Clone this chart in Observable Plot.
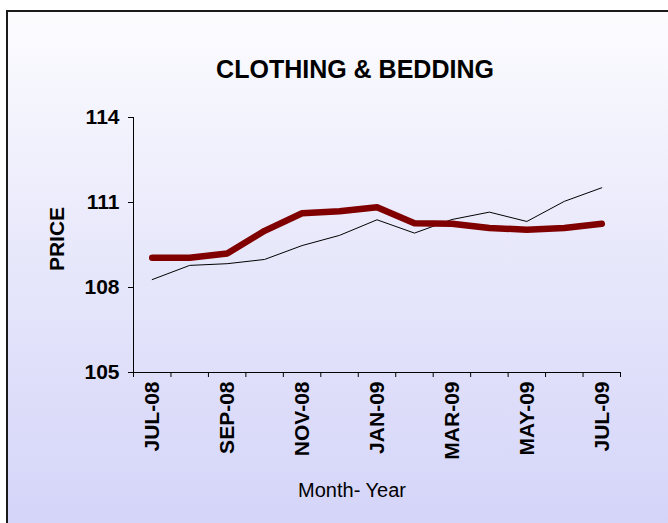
<!DOCTYPE html>
<html>
<head>
<meta charset="utf-8">
<script src="https://cdn.jsdelivr.net/npm/d3@7"></script>
<script src="https://cdn.jsdelivr.net/npm/@observablehq/plot@0.6"></script>
<style>
  html, body { margin: 0; padding: 0; width: 668px; height: 523px; overflow: hidden; background: #ffffff; font-family: "Liberation Sans", Arial, sans-serif; }
  #frame { position: absolute; left: 6px; top: 10px; width: 680px; height: 530px; border: 2px solid #1a1a1a; background: linear-gradient(to bottom, #fcfcff 0%, #e8e8fb 45%, #d3d3f9 100%); }
  #title { position: absolute; left: 0; width: 710px; top: 55px; text-align: center; font-weight: bold; font-size: 25px; color: #000; }
  #chart { position: absolute; left: 0; top: 0; }
  #xlabel { position: absolute; left: 252px; width: 200px; top: 479px; text-align: center; font-size: 20px; color: #000; }
</style>
</head>
<body>
<div id="frame"></div>
<div id="title">CLOTHING &amp; BEDDING</div>
<div id="chart"></div>
<div id="xlabel">Month- Year</div>
<script>
const months = ["JUL-08","AUG-08","SEP-08","OCT-08","NOV-08","DEC-08","JAN-09","FEB-09","MAR-09","APR-09","MAY-09","JUN-09","JUL-09"];
const seriesRed = [109.05, 109.05, 109.2, 110.0, 110.62, 110.69, 110.83, 110.27, 110.25, 110.1, 110.04, 110.1, 110.25];
const seriesBlack = [108.28, 108.78, 108.84, 108.99, 109.48, 109.84, 110.39, 109.92, 110.4, 110.66, 110.33, 111.04, 111.52];
const yTicks = [105, 108, 111, 114];

const redData = months.map((m, i) => ({i, v: seriesRed[i]}));
const blackData = months.map((m, i) => ({i, v: seriesBlack[i]}));
const labelTicks = months.map((m, i) => i).filter(i => i % 2 === 0);
const boundaryTicks = d3.range(months.length + 1).map(k => k - 0.5);

const plot = Plot.plot({
  width: 668,
  height: 523,
  marginLeft: 133,
  marginRight: 48,
  marginTop: 117,
  marginBottom: 151,
  style: { background: "transparent", fontFamily: "'Liberation Sans', Arial, sans-serif", color: "#000" },
  x: { type: "linear", domain: [-0.5, months.length - 0.5] },
  y: { domain: [105, 114] },
  marks: [
    Plot.axisY({ ticks: yTicks, tickSize: 5, tickPadding: 9, fontSize: 21, fontWeight: "bold", label: null }),
    Plot.axisX({ ticks: boundaryTicks, tickSize: 5, tickFormat: () => "", label: null }),
    Plot.axisX({ ticks: labelTicks, tickSize: 0, tickPadding: 9, tickRotate: -90, fontSize: 21, fontWeight: "bold", tickFormat: i => months[i], label: null }),
    Plot.ruleY([105], { stroke: "#000", strokeWidth: 1 }),
    Plot.ruleX([-0.5], { stroke: "#000", strokeWidth: 1 }),
    Plot.text(["PRICE"], { frameAnchor: "left", textAnchor: "middle", dx: -76, dy: -6, rotate: -90, fontSize: 21, fontWeight: "bold", fill: "#000" }),
    Plot.lineY(blackData, { x: "i", y: "v", stroke: "#000", strokeWidth: 1 }),
    Plot.lineY(redData, { x: "i", y: "v", stroke: "#800000", strokeWidth: 6.5, strokeLinecap: "round", strokeLinejoin: "round" })
  ]
});
document.getElementById("chart").appendChild(plot);
</script>
</body>
</html>
